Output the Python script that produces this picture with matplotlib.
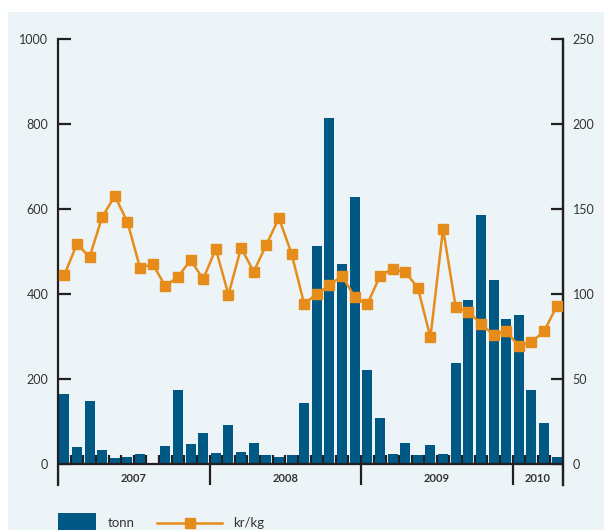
import matplotlib.pyplot as plt
from matplotlib.patches import Rectangle
from matplotlib.lines import Line2D

plt.rcParams['font.family'] = ['Lato', 'DejaVu Sans']

# monthly values, Jan 2007 - Apr 2010
tonn = [165, 40, 148, 33, 15, 17, 23, 0, 43, 175, 48, 73,
        26, 92, 28, 49, 21, 16, 21, 143, 514, 813, 470, 628,
        221, 108, 23, 49, 21, 45, 23, 238, 386, 586, 433, 341,
        350, 174, 96, 16]
kr_kg = [111.2, 129.4, 121.8, 145.3, 157.6, 142.4, 115.3, 117.6, 104.7, 110.0, 120.0, 108.8,
         126.5, 99.6, 127.2, 113.1, 129.0, 144.7, 123.7, 94.1, 100.2, 105.1, 110.8, 98.1,
         93.9, 110.6, 114.9, 112.9, 103.7, 74.5, 138.4, 92.4, 89.6, 82.5, 75.9, 78.2,
         69.4, 71.8, 78.0, 92.8]
years = ['2007', '2008', '2009', '2010']
months_per_year = [12, 12, 12, 4]
left_ticks = [0, 200, 400, 600, 800, 1000]
right_ticks = [0, 50, 100, 150, 200, 250]

blue = '#005884'
orange = '#e68c1b'
black = '#231f20'
bg = '#edf4f8'

fig = plt.figure(figsize=(6.04, 5.3), dpi=100)
fig.patch.set_facecolor('white')
fig.patches.append(Rectangle((8 / 604, 0), 1, (530 - 12) / 530, transform=fig.transFigure,
                             facecolor=bg, edgecolor='none', zorder=-10))

ax = fig.add_axes([58 / 604, 45 / 530, (563 - 58) / 604, (485 - 39) / 530])
ax.set_facecolor('none')
n = len(tonn)
x = [i + 0.5 for i in range(n)]
below = 49.4
ax.set_xlim(0, n)
ax.set_ylim(-below, 1000)

# small month ticks behind bars
ax.vlines(range(1, n), 0, 21, color=black, lw=1.6, zorder=1)
ax.bar(x, tonn, width=0.8, color=blue, zorder=2)
ax.axhline(0, color=black, lw=1.6, zorder=4)

# year separators and labels
start = 0
for yr, m in zip(years, months_per_year):
    ax.vlines(start, -below, 0, color=black, lw=1.6, zorder=4)
    ax.text(start + m / 2, -33, yr, ha='center', va='center', fontsize=8,
            fontweight='bold', color='#333333')
    start += m

for s in ['top', 'bottom']:
    ax.spines[s].set_visible(False)
for s in ['left', 'right']:
    ax.spines[s].set_color(black)
    ax.spines[s].set_linewidth(1.6)
ax.set_xticks([])
ax.set_yticks(left_ticks)
ax.tick_params(axis='y', direction='in', length=9, width=1.6, color=black,
               labelsize=9, labelcolor='#333333', pad=7)

ax2 = ax.twinx()
ax2.set_ylim(-below / 4, 250)
ax2.plot(x, kr_kg, color=orange, lw=1.8, marker='s', markersize=6.5, zorder=5)
for s in ['top', 'bottom', 'left']:
    ax2.spines[s].set_visible(False)
ax2.spines['right'].set_color(black)
ax2.spines['right'].set_linewidth(1.6)
ax2.set_yticks(right_ticks)
ax2.tick_params(axis='y', direction='in', length=9, width=1.6, color=black,
                labelsize=9, labelcolor='#333333', pad=7)

# legend
ly = (530 - 523) / 530
fig.patches.append(Rectangle((58 / 604, 0), 38 / 604, 17 / 530, transform=fig.transFigure,
                             facecolor=blue, edgecolor='none'))
fig.text(108 / 604, ly, 'tonn', fontsize=9.5, color='#333333', va='center')
fig.lines.append(Line2D([157 / 604, 222 / 604], [ly, ly], transform=fig.transFigure,
                        color=orange, lw=1.8))
fig.lines.append(Line2D([189.5 / 604], [ly], transform=fig.transFigure,
                        color=orange, marker='s', markersize=6.5, lw=0))
fig.text(233 / 604, ly, 'kr/kg', fontsize=9.5, color='#333333', va='center')

fig.savefig('out.png', dpi=100)
